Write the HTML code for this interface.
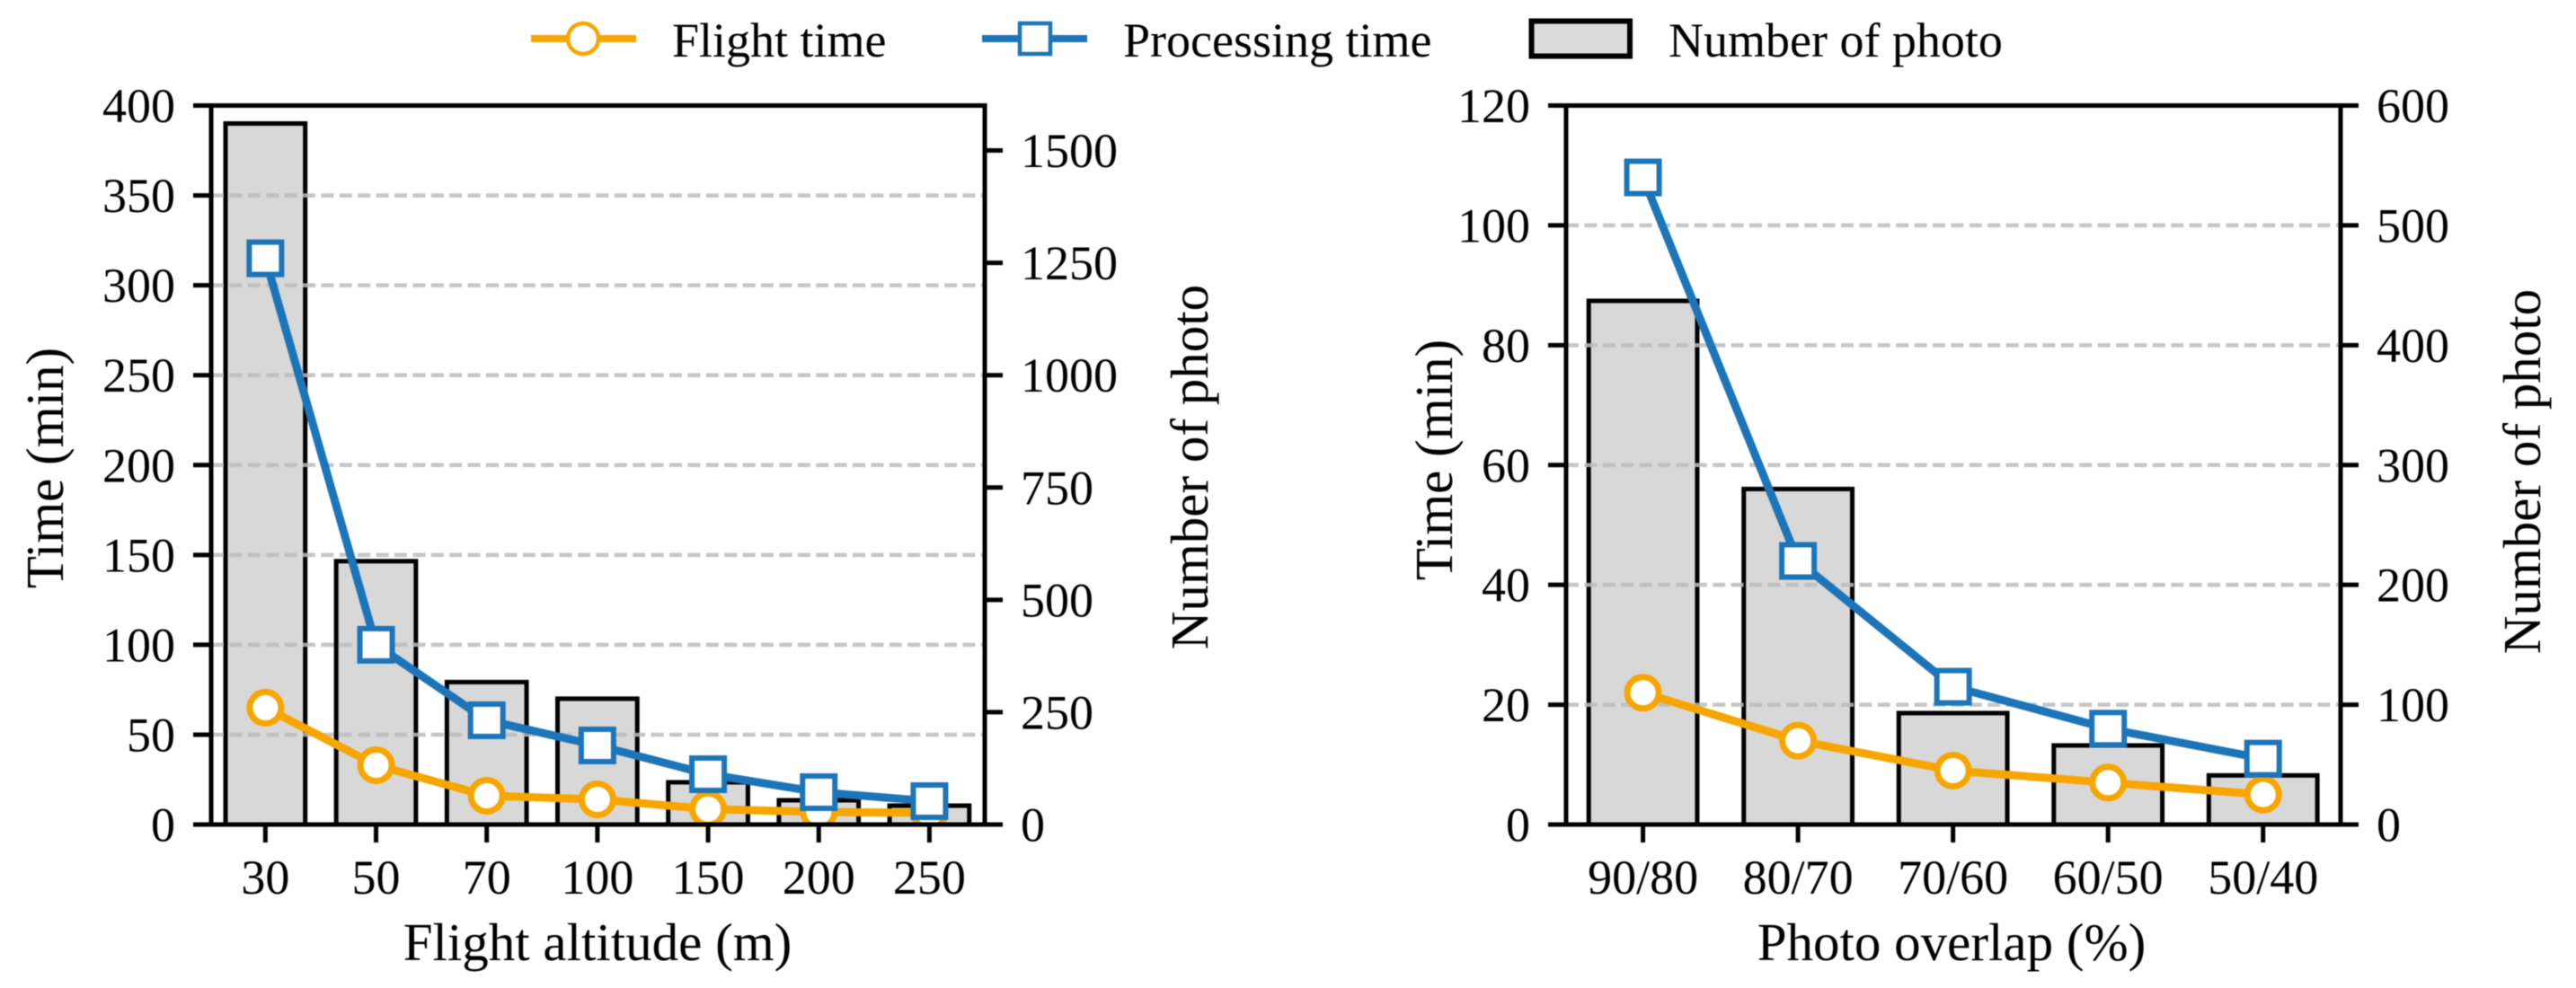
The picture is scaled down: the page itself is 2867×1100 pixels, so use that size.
<!DOCTYPE html>
<html>
<head>
<meta charset="utf-8">
<title>Flight altitude and photo overlap charts</title>
<style>
html,body{margin:0;padding:0;background:#fff;}
svg{display:block;filter:blur(0.6px);}
text{font-family:"Liberation Serif","Times New Roman",serif;fill:#000;}
</style>
</head>
<body>
<svg id="chart" xmlns="http://www.w3.org/2000/svg" width="2867" height="1100" viewBox="0 0 2867 1100">
<rect x="0" y="0" width="2867" height="1100" fill="#fff"/>
<g>
<g>
<line x1="591" y1="43" x2="708" y2="43" stroke="#f7a600" stroke-width="8"/>
<circle cx="649" cy="43" r="17" fill="#fff" stroke="#f7a600" stroke-width="4.5"/>
<text x="748" y="63" font-size="54">Flight time</text>
</g>
<g>
<line x1="1093" y1="43" x2="1210" y2="43" stroke="#1c75b8" stroke-width="8"/>
<rect x="1135" y="26" width="34" height="34" fill="#fff" stroke="#1c75b8" stroke-width="4.5"/>
<text x="1250" y="63" font-size="54">Processing time</text>
</g>
<g>
<rect x="1704.5" y="23.5" width="109.5" height="39" fill="#dcdcdc" stroke="#000" stroke-width="6"/>
<text x="1857" y="63" font-size="54">Number of photo</text>
</g>
</g>
</svg>
<script>
// Left panel data
var altitudeCategories = ['30','50','70','100','150','200','250'];
var altitudeFlightTime = [65,33,16,14,8.6,7,6.5];
var altitudeProcessingTime = [315,100,58,44,28,18,13];
var altitudePhotoCount = [1560,586,317,280,94,54,42];
var altitudeTimeTicks = [0,50,100,150,200,250,300,350,400];
var altitudePhotoTicks = [0,250,500,750,1000,1250,1500];

// Right panel data
var overlapCategories = ['90/80','80/70','70/60','60/50','50/40'];
var overlapFlightTime = [22,14,9,7,5];
var overlapProcessingTime = [108,44,23,16,11];
var overlapPhotoCount = [437,280,93,66,41];
var overlapTimeTicks = [0,20,40,60,80,100,120];
var overlapPhotoTicks = [0,100,200,300,400,500,600];

var NS = 'http://www.w3.org/2000/svg';
var svg = document.getElementById('chart');
var ORANGE = '#f7a600', BLUE = '#1c75b8';

function el(tag, attrs, parent) {
  var e = document.createElementNS(NS, tag);
  for (var k in attrs) e.setAttribute(k, attrs[k]);
  parent.appendChild(e);
  return e;
}

function drawPanel(p) {
  var g = el('g', {}, svg);
  
  

  var n = p.categories.length;
  var step = (p.right - p.left) / (n - 1 + p.padL + p.padR);
  function xAt(i) { return p.left + (p.padL + i) * step; }
  function yLeft(v) { return p.bottom - v / p.timeMax * (p.bottom - p.top); }
  function yRight(v) { return p.bottom - v / p.photoMax * (p.bottom - p.top); }

  var clipId = p.name + '-clip';
  var defs = el('defs', {}, g);
  var cp = el('clipPath', {id: clipId}, defs);
  el('rect', {x: p.left, y: p.top, width: p.right - p.left, height: p.bottom - p.top}, cp);

  // Bars
  var barW = step * p.barFrac;
  p.photo.forEach(function (v, i) {
    var b = el('rect', {x: xAt(i) - barW / 2, y: yRight(v), width: barW, height: p.bottom - yRight(v), fill: '#d8d8d8', stroke: '#000', 'stroke-width': 5}, g);
    
    
  });

  // Grid lines
  p.timeTicks.forEach(function (v) {
    if (v === 0 || v === p.timeMax) return;
    var l = el('line', {x1: p.left, x2: p.right, y1: yLeft(v), y2: yLeft(v), stroke: '#bcbcbc', 'stroke-opacity': 0.85, 'stroke-width': 4.5, 'stroke-dasharray': '14 6.4'}, g);
    
    
  });

  // Series
  function series(values, color, kind, label) {
    var sg = el('g', {'clip-path': 'url(#' + clipId + ')'}, g);
    
    
    var pts = values.map(function (v, i) { return xAt(i) + ',' + yLeft(v); }).join(' ');
    var pl = el('polyline', {points: pts, fill: 'none', stroke: color, 'stroke-width': 9, 'stroke-linejoin': 'round'}, sg);
    
    
    values.forEach(function (v, i) {
      var m;
      if (kind === 'circle') {
        m = el('circle', {cx: xAt(i), cy: yLeft(v), r: 17.5, fill: '#fff', stroke: color, 'stroke-width': 7}, sg);
      } else {
        m = el('rect', {x: xAt(i) - 18, y: yLeft(v) - 18, width: 36, height: 36, fill: '#fff', stroke: color, 'stroke-width': 6}, sg);
      }
      
      
    });
  }
  series(p.flight, ORANGE, 'circle', 'flight-time');
  series(p.processing, BLUE, 'square', 'processing-time');

  // Frame
  var frame = el('rect', {x: p.left, y: p.top, width: p.right - p.left, height: p.bottom - p.top, fill: 'none', stroke: '#000', 'stroke-width': 5}, g);
  
  

  // Left ticks
  p.timeTicks.forEach(function (v) {
    var t = el('line', {x1: p.left - 20, x2: p.left, y1: yLeft(v), y2: yLeft(v), stroke: '#000', 'stroke-width': 5}, g);
    
    
    var tx = el('text', {x: p.left - 40, y: yLeft(v) + 18.5, 'font-size': 54, 'text-anchor': 'end'}, g);
    tx.textContent = String(v);
    
    
  });

  // Right ticks
  p.photoTicks.forEach(function (v) {
    var t = el('line', {x1: p.right, x2: p.right + 20, y1: yRight(v), y2: yRight(v), stroke: '#000', 'stroke-width': 5}, g);
    
    
    var tx = el('text', {x: p.right + 40, y: yRight(v) + 18.5, 'font-size': 54, 'text-anchor': 'start'}, g);
    tx.textContent = String(v);
    
    
  });

  // X ticks
  p.categories.forEach(function (c, i) {
    var t = el('line', {x1: xAt(i), x2: xAt(i), y1: p.bottom, y2: p.bottom + 20, stroke: '#000', 'stroke-width': 5}, g);
    
    
    var tx = el('text', {x: xAt(i), y: 995, 'font-size': 54, 'text-anchor': 'middle'}, g);
    tx.textContent = c;
    
    
  });

  // Axis titles
  var xt = el('text', {x: p.xTitleX, y: 1069, 'font-size': 59, 'text-anchor': 'middle'}, g);
  xt.textContent = p.xTitle;
  
  

  var yl = el('text', {'font-size': 59, 'text-anchor': 'middle', transform: 'translate(' + p.timeTitleX + ',' + p.timeTitleY + ') rotate(-90)'}, g);
  yl.textContent = 'Time (min)';
  
  

  var yr = el('text', {'font-size': 59, 'text-anchor': 'middle', transform: 'translate(' + p.photoTitleX + ',' + p.photoTitleY + ') rotate(-90)'}, g);
  yr.textContent = 'Number of photo';
  
  
}

drawPanel({
  name: 'altitude-panel', left: 235, right: 1096, top: 117.5, bottom: 918,
  padL: 0.49, padR: 0.5, barFrac: 0.72, timeMax: 400, photoMax: 1600,
  categories: altitudeCategories, flight: altitudeFlightTime, processing: altitudeProcessingTime, photo: altitudePhotoCount,
  timeTicks: altitudeTimeTicks, photoTicks: altitudePhotoTicks,
  xTitle: 'Flight altitude (m)', xTitleX: 665,
  timeTitleX: 70, timeTitleY: 521, photoTitleX: 1344, photoTitleY: 520
});
drawPanel({
  name: 'overlap-panel', left: 1743, right: 2605, top: 117.5, bottom: 918,
  padL: 0.496, padR: 0.5, barFrac: 0.7, timeMax: 120, photoMax: 600,
  categories: overlapCategories, flight: overlapFlightTime, processing: overlapProcessingTime, photo: overlapPhotoCount,
  timeTicks: overlapTimeTicks, photoTicks: overlapPhotoTicks,
  xTitle: 'Photo overlap (%)', xTitleX: 2172,
  timeTitleX: 1616, timeTitleY: 512, photoTitleX: 2827, photoTitleY: 525
});
</script>
</body>
</html>
